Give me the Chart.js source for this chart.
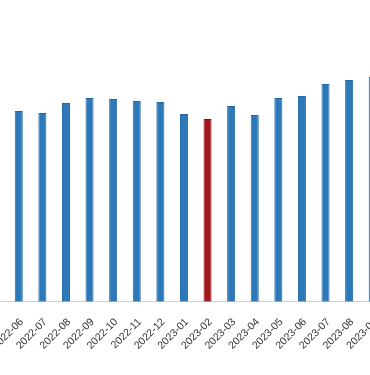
<!DOCTYPE html>
<html>
<head>
<meta charset="utf-8">
<script src="https://cdn.jsdelivr.net/npm/chart.js@4/dist/chart.umd.min.js"></script>
<style>
  html, body { margin: 0; padding: 0; background: #fff; }
  #wrap { position: relative; width: 370px; height: 375px; overflow: hidden; }
  #grafico { position: absolute; left: 0; top: 0; }
</style>
</head>
<body>
<div id="wrap"><canvas id="grafico"></canvas></div>
<script>
// months shown (the picture is a crop of a longer series)
const meses = [
  "2022-05", "2022-06", "2022-07", "2022-08", "2022-09", "2022-10", "2022-11", "2022-12",
  "2023-01", "2023-02", "2023-03", "2023-04", "2023-05", "2023-06", "2023-07", "2023-08", "2023-09"
];
const valores = [192, 191, 189, 199, 204, 203, 201, 200, 188, 183, 196, 187, 204, 206, 218, 222, 225];
const mesDestacado = "2023-02";

const AZUL = "#2c79b9", AZUL_BORDE = "#2467a3";
const ROJO = "#a3161d", ROJO_BORDE = "#8e131b";

// layout of the crop
const PASO = 23.6;      // px per month
const BASE_Y = 302;     // baseline in the page
const CENTRO_X = 19;    // where the 2022-06 bar sits
const Y_MAX = BASE_Y;   // chart area starts at the top -> 1 unit per px

const canvas = document.getElementById("grafico");
Chart.defaults.font.family = "'Liberation Sans', Arial, sans-serif";
Chart.defaults.font.size = 10.5;
Chart.defaults.color = "#333";

function crear(w, h) {
  canvas.width = w;
  canvas.height = h;
  canvas.style.width = w + "px";
  canvas.style.height = h + "px";
  return new Chart(canvas, {
    type: "bar",
    data: {
      labels: meses,
      datasets: [{
        data: valores,
        backgroundColor: meses.map((m) => (m === mesDestacado ? ROJO : AZUL)),
        borderColor: meses.map((m) => (m === mesDestacado ? ROJO_BORDE : AZUL_BORDE)),
        borderWidth: 1,
        categoryPercentage: 1,
        barPercentage: 0.34,
      }],
    },
    options: {
      responsive: false,
      animation: false,
      layout: { padding: 0 },
      plugins: { legend: { display: false }, tooltip: { enabled: false } },
      scales: {
        x: {
          grid: { display: false },
          border: { display: true, color: "#cfcfcf", width: 1 },
          ticks: { autoSkip: false, maxRotation: 45, minRotation: 45, padding: 6, labelOffset: 3 },
        },
        y: { display: false, min: 0, max: Y_MAX },
      },
    },
  });
}

let w = meses.length * PASO + 60, h = 360;
let chart = null;
for (let i = 0; i < 3; i++) {
  if (chart) chart.destroy();
  chart = crear(Math.round(w), Math.round(h));
  const a = chart.chartArea;
  const padL = a.left, padR = chart.width - a.right, padB = chart.height - a.bottom;
  w = padL + meses.length * PASO + padR;
  h = BASE_Y + padB;
}
if (chart) chart.destroy();
chart = crear(Math.round(w), Math.round(h));
const x1 = chart.scales.x.getPixelForValue(1);
canvas.style.left = (CENTRO_X - x1) + "px";
canvas.style.top = (BASE_Y - chart.chartArea.bottom) + "px";
</script>
</body>
</html>
